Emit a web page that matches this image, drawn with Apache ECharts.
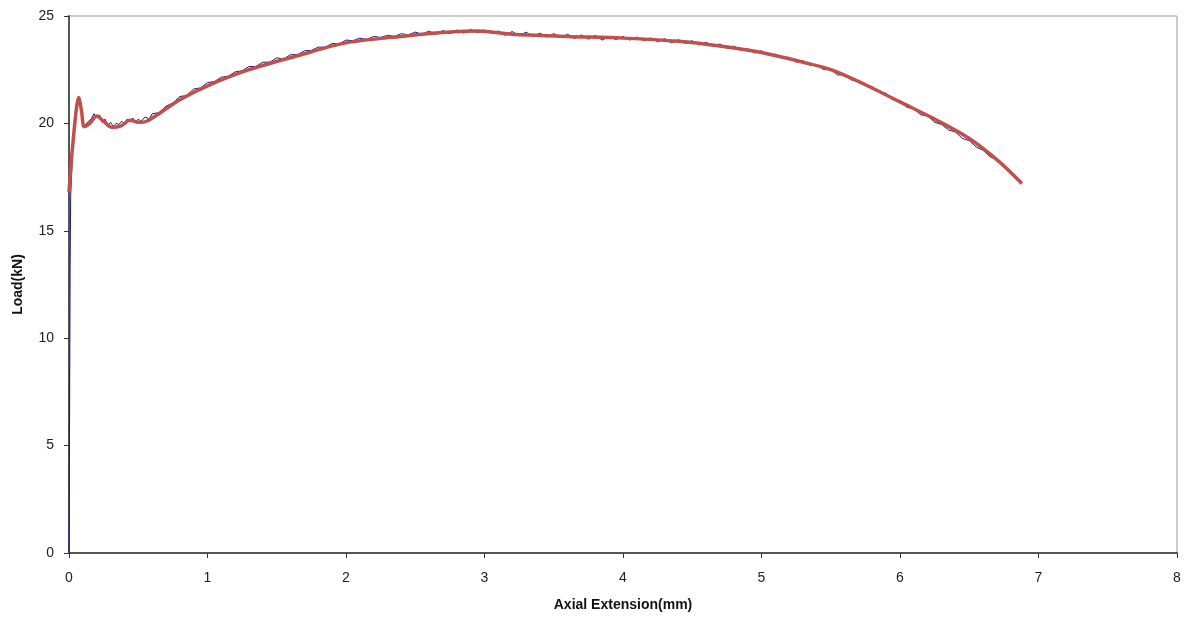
<!DOCTYPE html>
<html>
<head>
<meta charset="utf-8">
<script src="https://cdn.jsdelivr.net/npm/echarts@6/dist/echarts.min.js"></script>
<style>
  html, body { margin: 0; padding: 0; background: #fff; }
  #chart { width: 1186px; height: 619px; }
</style>
</head>
<body>
<div id="chart"></div>
<script>
// Tensile test: raw load readings and the fitted load–extension curve
const xTicks = [0, 1, 2, 3, 4, 5, 6, 7, 8];
const yTicks = [0, 5, 10, 15, 20, 25];

// Raw measurements [extension mm, load kN]
const rawLoad = [
  [0, 0], [0.004, 6], [0.008, 13], [0.012, 16.6], [0.03, 19.3], [0.06, 21.0], [0.075, 21.1],
  [0.09, 20.5], [0.1, 19.9], [0.12, 19.95], [0.14, 20.1], [0.16, 20.2], [0.18, 20.45],
  [0.2, 20.25], [0.22, 20.4], [0.24, 20.05], [0.26, 20.2], [0.28, 19.9], [0.3, 20.05],
  [0.32, 19.85], [0.34, 20.0], [0.36, 19.95], [0.38, 20.1], [0.40, 20.0], [0.42, 20.2],
  [0.44, 20.1], [0.46, 20.25], [0.48, 20.05], [0.5, 20.2], [0.52, 20.1], [0.55, 20.3],
  [0.58, 20.2], [0.60, 20.45], [0.65, 20.5], [0.70, 20.8], [0.75, 20.95], [0.80, 21.25],
  [0.85, 21.3], [0.90, 21.6], [0.95, 21.65], [1.00, 21.9], [1.05, 21.95], [1.10, 22.15],
  [1.15, 22.2], [1.20, 22.4], [1.25, 22.45], [1.30, 22.65], [1.35, 22.65], [1.40, 22.85],
  [1.45, 22.85], [1.50, 23.05], [1.55, 23.0], [1.60, 23.2], [1.65, 23.2], [1.70, 23.38],
  [1.75, 23.4], [1.80, 23.55], [1.85, 23.55], [1.90, 23.72], [1.95, 23.7], [2.00, 23.88],
  [2.05, 23.85], [2.10, 23.97], [2.15, 23.9], [2.20, 24.05], [2.25, 24.0], [2.30, 24.1],
  [2.35, 24.05], [2.40, 24.18], [2.45, 24.12], [2.50, 24.25], [2.55, 24.15], [2.60, 24.3],
  [2.65, 24.15], [2.70, 24.32], [2.75, 24.18], [2.80, 24.35], [2.85, 24.2], [2.90, 24.38],
  [2.95, 24.22], [3.00, 24.35], [3.05, 24.2], [3.10, 24.3], [3.15, 24.1], [3.20, 24.28],
  [3.25, 24.08], [3.30, 24.25], [3.35, 24.05], [3.40, 24.2], [3.45, 24.02], [3.50, 24.18],
  [3.55, 24.0], [3.60, 24.15], [3.65, 23.95], [3.70, 24.12], [3.75, 23.92], [3.80, 24.1],
  [3.85, 23.88], [3.90, 24.05], [3.95, 23.9], [4.00, 24.05], [4.05, 23.88], [4.10, 24.02],
  [4.15, 23.85], [4.20, 23.98], [4.25, 23.8], [4.30, 23.95], [4.35, 23.75], [4.40, 23.9],
  [4.45, 23.72], [4.50, 23.85], [4.55, 23.65], [4.60, 23.78], [4.65, 23.58], [4.70, 23.7],
  [4.75, 23.5], [4.80, 23.6], [4.85, 23.4], [4.90, 23.48], [4.95, 23.28], [5.00, 23.38],
  [5.05, 23.18], [5.10, 23.22], [5.15, 23.05], [5.20, 23.08], [5.25, 22.85], [5.30, 22.92],
  [5.35, 22.7], [5.40, 22.72], [5.45, 22.5], [5.50, 22.52], [5.55, 22.25], [5.60, 22.28],
  [5.65, 22.02], [5.70, 22.0], [5.75, 21.75], [5.80, 21.72], [5.85, 21.45], [5.90, 21.4],
  [5.95, 21.1], [6.00, 21.05], [6.05, 20.75], [6.10, 20.68], [6.15, 20.4], [6.20, 20.35],
  [6.25, 20.05], [6.30, 19.95], [6.35, 19.7], [6.40, 19.6], [6.45, 19.3], [6.50, 19.2],
  [6.55, 18.9], [6.60, 18.75], [6.65, 18.45], [6.70, 18.3], [6.75, 17.95], [6.80, 17.75],
  [6.85, 17.4], [6.88, 17.2]
];

// Fitted curve [extension mm, load kN]
const fittedLoad = [
  [0.0, 16.8], [0.03, 19.2], [0.07, 21.2], [0.09, 20.6], [0.11, 19.85], [0.15, 20.0],
  [0.2, 20.35], [0.25, 20.1], [0.31, 19.82], [0.38, 19.9], [0.44, 20.15], [0.5, 20.05],
  [0.56, 20.1], [0.66, 20.5], [0.8, 21.1], [1.0, 21.75], [1.3, 22.5], [1.65, 23.15],
  [2.0, 23.75], [2.4, 24.05], [2.75, 24.25], [2.95, 24.3], [3.2, 24.15], [3.6, 24.05],
  [4.0, 23.97], [4.4, 23.82], [4.7, 23.6], [5.0, 23.3], [5.3, 22.85], [5.5, 22.5],
  [5.75, 21.8], [6.0, 21.0], [6.25, 20.2], [6.5, 19.3], [6.72, 18.2], [6.88, 17.2]
];

const chart = echarts.init(document.getElementById('chart'), null, { renderer: 'canvas' });

const labelFont = { fontFamily: 'Liberation Sans, Arial, sans-serif', fontSize: 14, color: '#222' };
const nameFont = { fontFamily: 'Liberation Sans, Arial, sans-serif', fontSize: 14, fontWeight: 'bold', color: '#111' };
const axisLine = { show: true, onZero: false, lineStyle: { color: '#555', width: 2 } };

chart.setOption({
  animation: false,
  backgroundColor: '#fff',
  grid: {
    left: 69, right: 9, top: 16, bottom: 66,
    containLabel: false, outerBoundsMode: 'none',
    show: true, borderColor: '#999', borderWidth: 1, backgroundColor: 'transparent'
  },
  xAxis: {
    type: 'value',
    min: xTicks[0], max: xTicks[xTicks.length - 1], interval: 1,
    name: 'Axial Extension(mm)', nameLocation: 'middle', nameGap: 45,
    nameTextStyle: nameFont,
    axisLine: axisLine,
    axisTick: { show: true, inside: false, length: 5, lineStyle: { color: '#333', width: 1 } },
    axisLabel: Object.assign({ margin: 18 }, labelFont),
    splitLine: { show: false }
  },
  yAxis: {
    type: 'value',
    min: yTicks[0], max: yTicks[yTicks.length - 1], interval: 5,
    name: 'Load(kN)', nameLocation: 'middle', nameGap: 44, nameRotate: 90,
    nameTextStyle: nameFont,
    axisLine: axisLine,
    axisTick: { show: true, inside: false, length: 5, lineStyle: { color: '#333', width: 1 } },
    axisLabel: Object.assign({ margin: 15 }, labelFont),
    splitLine: { show: false }
  },
  series: [
    {
      name: 'raw', type: 'line', data: rawLoad, showSymbol: false,
      lineStyle: { color: '#1a1a80', width: 1 }, z: 2
    },
    {
      name: 'fit', type: 'line', data: fittedLoad, showSymbol: false, smooth: 0.3,
      lineStyle: { color: '#C0504D', width: 3.5 }, z: 3
    }
  ]
});
</script>
</body>
</html>
